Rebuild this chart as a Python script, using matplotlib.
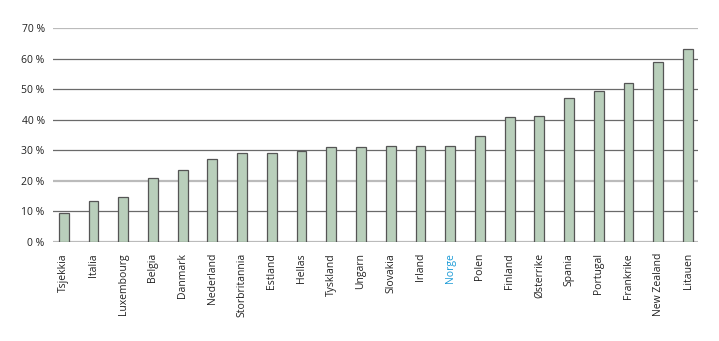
import matplotlib.pyplot as plt

countries = ['Tsjekkia', 'Italia', 'Luxembourg', 'Belgia', 'Danmark', 'Nederland',
             'Storbritannia', 'Estland', 'Hellas', 'Tyskland', 'Ungarn', 'Slovakia',
             'Irland', 'Norge', 'Polen', 'Finland', 'Østerrike', 'Spania', 'Portugal',
             'Frankrike', 'New Zealand', 'Litauen']
values = [9.6, 13.3, 14.6, 20.8, 23.7, 27.0, 29.0, 29.2, 29.9, 31.0, 31.0, 31.3,
          31.3, 31.3, 34.7, 40.8, 41.1, 47.0, 49.3, 51.9, 58.9, 63.1]
yticks = [0, 10, 20, 30, 40, 50, 60, 70]

plt.rcParams['font.family'] = ['Open Sans', 'DejaVu Sans']

fig = plt.figure(figsize=(7.19, 3.41), dpi=100)
ax = fig.add_axes([0.0737, 0.2903, 0.8973, 0.6277])

for t in yticks:
    if t in (0, 20, 70):
        ax.axhline(t, color='#bbbbbb', lw=1.6, zorder=1)
    else:
        ax.axhline(t, color='#6a6a6a', lw=0.9, zorder=1)

x = range(len(countries))
ax.bar(x, values, width=0.33, color='#b9cfbb', edgecolor='#555555', linewidth=0.9, zorder=2)

ax.set_xlim(-0.36, len(countries) - 0.66)
ax.set_ylim(0, 70)
ax.set_yticks(yticks)
ax.set_yticklabels([f'{t} %' for t in yticks], fontsize=7.5, color='#222222')
ax.set_xticks(list(x))
ax.set_xticklabels(countries, rotation=90, fontsize=7.5, color='#222222')
for lbl in ax.get_xticklabels():
    if lbl.get_text() == 'Norge':
        lbl.set_color('#1a9ad6')
ax.tick_params(axis='both', length=0, pad=8)
ax.tick_params(axis='y', pad=6)
for s in ax.spines.values():
    s.set_visible(False)

fig.savefig('out.png', dpi=100)
